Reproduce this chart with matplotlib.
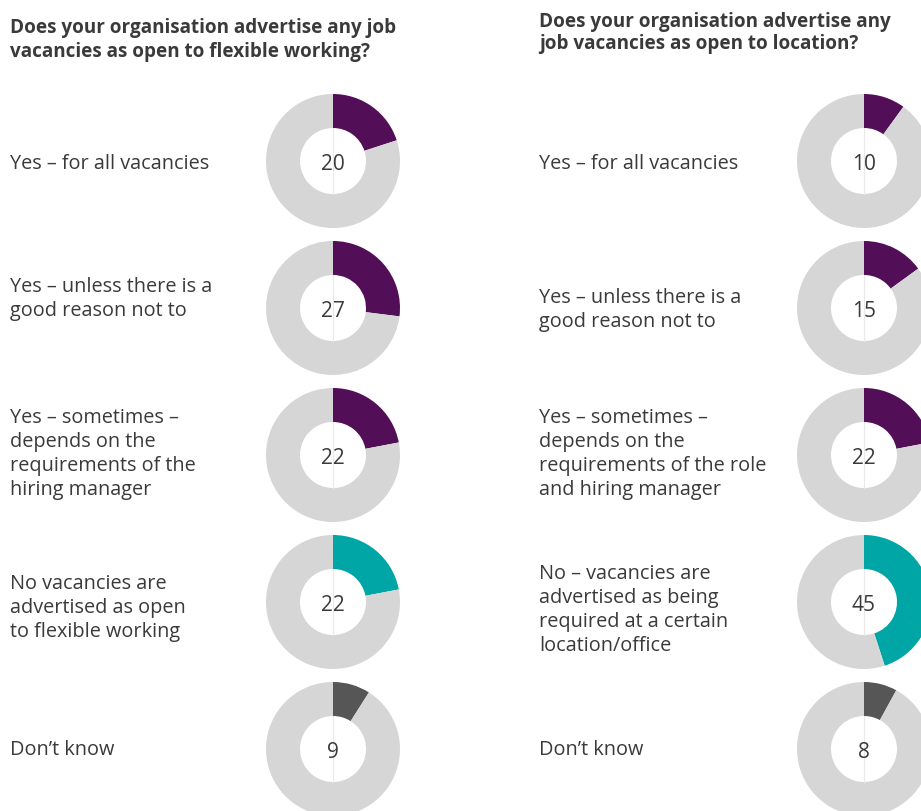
import matplotlib.pyplot as plt

# Survey answers, percent of respondents
titles = ["Does your organisation advertise any job\nvacancies as open to flexible working?",
          "Does your organisation advertise any\njob vacancies as open to location?"]
flex_labels = ["Yes \u2013 for all vacancies",
               "Yes \u2013 unless there is a\ngood reason not to",
               "Yes \u2013 sometimes \u2013\ndepends on the\nrequirements of the\nhiring manager",
               "No vacancies are\nadvertised as open\nto flexible working",
               "Don\u2019t know"]
flex_values = [20, 27, 22, 22, 9]
loc_labels = ["Yes \u2013 for all vacancies",
              "Yes \u2013 unless there is a\ngood reason not to",
              "Yes \u2013 sometimes \u2013\ndepends on the\nrequirements of the role\nand hiring manager",
              "No \u2013 vacancies are\nadvertised as being\nrequired at a certain\nlocation/office",
              "Don\u2019t know"]
loc_values = [10, 15, 22, 45, 8]

PURPLE = "#520e57"
TEAL = "#00a6a6"
DARK = "#565656"
RING = "#d6d6d6"
TEXT = "#3a3a3a"
slice_colors = [PURPLE, PURPLE, PURPLE, TEAL, DARK]

W, H = 921, 812
fig = plt.figure(figsize=(W / 100, H / 100), dpi=100)
ax = fig.add_axes([0, 0, 1, 1])

row_y = [162, 309, 456, 603, 750]
label_y = [[164, 299, 454, 608, 750], [164, 310, 454, 610, 750]]
panels = [(10, 333, flex_labels, flex_values, 40),
          (539, 864, loc_labels, loc_values, 33)]

R_OUT, R_IN = 67, 33
for p, (tx, cx, labels, values, title_y) in enumerate(panels):
    ax.text(tx, H - title_y, titles[p], ha="left", va="center", fontsize=13.6,
            fontweight="bold", color=TEXT, family="Open Sans", linespacing=1.2)
    for i, (lab, v) in enumerate(zip(labels, values)):
        cy = H - row_y[i]
        ax.pie([v, 100 - v], center=(cx, cy), radius=R_OUT, startangle=90,
               counterclock=False, colors=[slice_colors[i], RING],
               wedgeprops=dict(width=R_OUT - R_IN, linewidth=0),
               frame=True)
        ax.plot([cx, cx], [cy - R_IN, cy + R_IN], color="#e9e9e9", lw=0.8)
        ax.text(cx, cy, str(v), ha="center", va="center_baseline", fontsize=15,
                color=TEXT, family="Open Sans")
        ax.text(tx, H - label_y[p][i], lab, ha="left", va="center",
                fontsize=14.3, color=TEXT, family="Open Sans", linespacing=1.28)

ax.set_xlim(0, W)
ax.set_ylim(0, H)
ax.set_aspect("equal")
ax.axis("off")
fig.savefig("out.png", dpi=100)
